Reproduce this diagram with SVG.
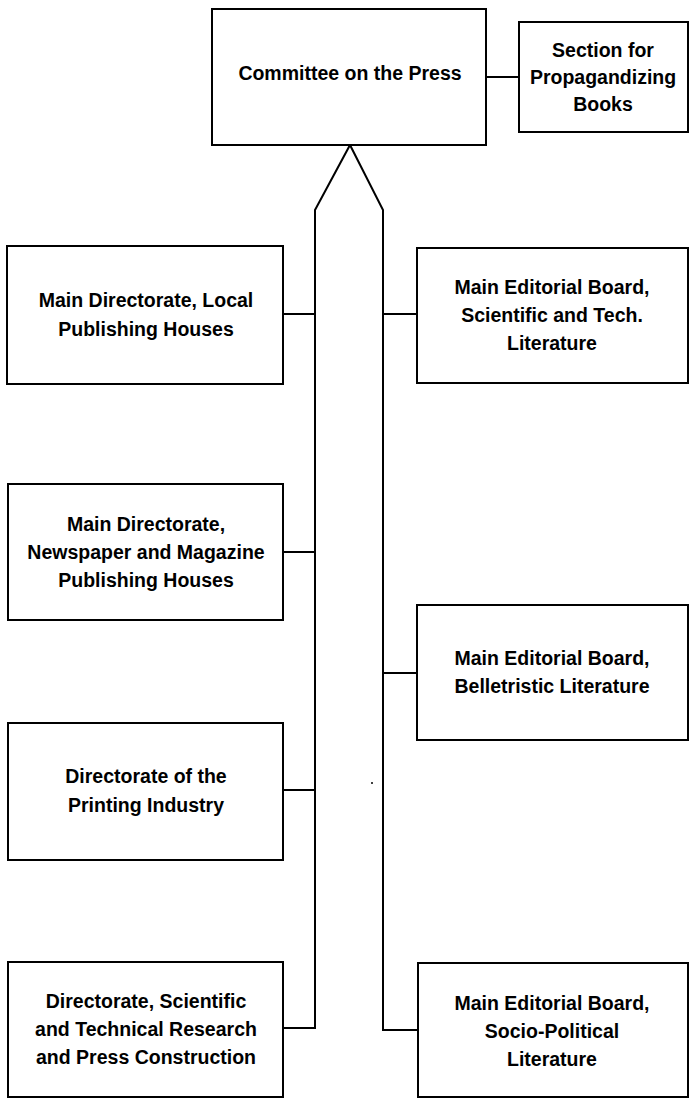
<svg xmlns="http://www.w3.org/2000/svg" width="690" height="1101" viewBox="0 0 690 1101">
  <style>
    .box { fill: #ffffff; stroke: #000000; stroke-width: 2; }
    .link { fill: none; stroke: #000000; stroke-width: 2; stroke-linejoin: miter; }
    .label { font-family: "Liberation Sans", Arial, sans-serif; font-weight: bold; font-size: 19.5px; fill: #000000; text-anchor: middle; }
  </style>
  <rect x="0" y="0" width="690" height="1101" fill="#ffffff"/>

  <!-- connectors -->
  <g id="connectors">
    <line class="link" x1="486" y1="77" x2="519" y2="77"/>
    <!-- twin spines rising to the apex under the committee box -->
    <polyline class="link" points="283,1028 315,1028 315,210 350,145 383,210 383,1030 418,1030"/>
    <line class="link" x1="283" y1="314" x2="315" y2="314"/>
    <line class="link" x1="283" y1="552" x2="315" y2="552"/>
    <line class="link" x1="283" y1="790" x2="315" y2="790"/>
    <line class="link" x1="383" y1="314" x2="417" y2="314"/>
    <line class="link" x1="383" y1="673" x2="417" y2="673"/>
  </g>

  <g id="committee">
    <rect class="box" x="212" y="9" width="274" height="136"/>
    <text class="label" x="350" y="80">Committee on the Press</text>
  </g>

  <g id="propaganda-section">
    <rect class="box" x="519" y="22" width="169" height="110"/>
    <text class="label" x="603" y="57">Section for</text>
    <text class="label" x="603" y="84">Propagandizing</text>
    <text class="label" x="603" y="111">Books</text>
  </g>

  <g id="local-publishing">
    <rect class="box" x="7" y="246" width="276" height="138"/>
    <text class="label" x="146" y="307">Main Directorate, Local</text>
    <text class="label" x="146" y="336">Publishing Houses</text>
  </g>

  <g id="newspaper-publishing">
    <rect class="box" x="8" y="484" width="275" height="136"/>
    <text class="label" x="146" y="531">Main Directorate,</text>
    <text class="label" x="146" y="559">Newspaper and Magazine</text>
    <text class="label" x="146" y="587">Publishing Houses</text>
  </g>

  <g id="printing-industry">
    <rect class="box" x="8" y="723" width="275" height="137"/>
    <text class="label" x="146" y="783">Directorate of the</text>
    <text class="label" x="146" y="812">Printing Industry</text>
  </g>

  <g id="research-construction">
    <rect class="box" x="8" y="962" width="275" height="135"/>
    <text class="label" x="146" y="1008">Directorate, Scientific</text>
    <text class="label" x="146" y="1036">and Technical Research</text>
    <text class="label" x="146" y="1064">and Press Construction</text>
  </g>

  <g id="scientific-board">
    <rect class="box" x="417" y="248" width="271" height="135"/>
    <text class="label" x="552" y="294">Main Editorial Board,</text>
    <text class="label" x="552" y="322">Scientific and Tech.</text>
    <text class="label" x="552" y="350">Literature</text>
  </g>

  <g id="belletristic-board">
    <rect class="box" x="417" y="605" width="271" height="135"/>
    <text class="label" x="552" y="665">Main Editorial Board,</text>
    <text class="label" x="552" y="693">Belletristic Literature</text>
  </g>

  <g id="socio-political-board">
    <rect class="box" x="418" y="963" width="270" height="134"/>
    <text class="label" x="552" y="1010">Main Editorial Board,</text>
    <text class="label" x="552" y="1038">Socio-Political</text>
    <text class="label" x="552" y="1066">Literature</text>
  </g>

  <circle cx="372" cy="783" r="1" fill="#000000"/>
</svg>
